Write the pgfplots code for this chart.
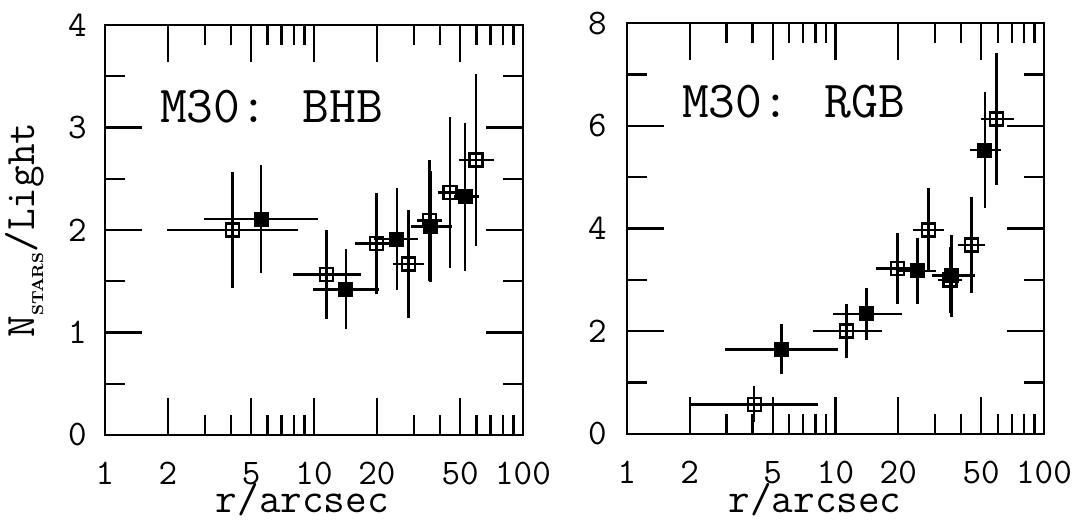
\documentclass[border=0pt]{standalone}
\usepackage{pgfplots}
\pgfplotsset{compat=1.18}
\newcommand{\tlf}{\ttfamily\fontsize{18bp}{20bp}\selectfont}
\newcommand{\tl}[1]{\mbox{\tlf #1}}

\begin{document}
\begin{tikzpicture}
\useasboundingbox (0,0) rectangle (541bp,261bp);

% BHB
\begin{axis}[at={(52.5bp,43.5bp)}, anchor=south west,
  scale only axis, width=209bp, height=205bp,
  xmode=log, xmin=1, xmax=100,
  xtick={1,2,5,10,20,50,100},
  xticklabels={\tl{1},\tl{2},\tl{5},\tl{10},\tl{20},\tl{50},\tl{100}},
  minor xtick={3,4,6,7,8,9,30,40,60,70,80,90},
  ymin=0, ymax=4, ytick={0,1,2,3,4},
  yticklabels={\tl{0},\tl{1},\tl{2},\tl{3},\tl{4}},
  minor ytick={0.5,1.5,2.5,3.5},
  tick align=inside, major tick length=18.5bp, minor tick length=10bp,
  tick style={black, line width=1.2bp},
  axis line style={line width=1.4bp},
  xticklabel style={font=\tlf, inner sep=0pt, yshift=-13.5bp},
  yticklabel style={font=\tlf, inner sep=0pt, xshift=-9bp},
  label style={font=\ttfamily\fontsize{21bp}{24bp}\selectfont},
  xlabel={r/arcsec},
  ylabel={N\raisebox{-0.45ex}{\rmfamily\bfseries\fontsize{8bp}{9bp}\selectfont STARS}/Light},
  ylabel style={at={(axis description cs:-0.191,0.5)}, anchor=center},
  xlabel style={at={(axis description cs:0.472,-0.188)}, anchor=base},
]
\addplot[only marks, black, mark=square, mark size=3.25bp,
  mark options={solid, line width=1.1bp},
  error bars/x dir=both, error bars/x explicit,
  error bars/y dir=both, error bars/y explicit,
  error bars/error bar style={line width=1.3bp},
  error bars/error mark options={mark size=1.2bp, line width=1.3bp}]
  table[x=x, y=y, x error plus=xp, x error minus=xm, y error plus=ye, y error minus=ye] {
x     y      xm    xp    ye
4.08  2.000  2.05  4.09  0.543
11.5  1.568  3.33  4.90  0.410
19.95 1.870  3.85  4.75  0.467
28.3  1.668  3.90  4.50  0.500
35.6  2.091  3.70  4.50  0.570
44.7  2.364  4.60  5.30  0.715
59.6  2.683  9.10  11.2  0.820
};
\addplot[only marks, black, mark=square*, mark size=3.25bp,
  mark options={solid, line width=1bp, fill=black},
  error bars/x dir=both, error bars/x explicit,
  error bars/y dir=both, error bars/y explicit,
  error bars/error bar style={line width=1.3bp},
  error bars/error mark options={mark size=1.2bp, line width=1.3bp}]
  table[x=x, y=y, x error plus=xp, x error minus=xm, y error plus=ye, y error minus=ye] {
x     y      xm    xp    ye
5.58  2.107  2.51  4.62  0.500
14.2  1.421  4.10  5.75  0.366
24.9  1.912  4.95  5.80  0.470
36.2  2.033  6.30  8.50  0.520
52.8  2.325  4.60  7.20  0.700
};
\node[anchor=base west, font=\ttfamily\fontsize{26bp}{30bp}\selectfont]
  at (axis description cs:0.115,0.763) {M30: BHB};
\end{axis}

% RGB
\begin{axis}[at={(313.5bp,44bp)}, anchor=south west,
  scale only axis, width=208.5bp, height=205.5bp,
  xmode=log, xmin=1, xmax=100,
  xtick={1,2,5,10,20,50,100},
  xticklabels={\tl{1},\tl{2},\tl{5},\tl{10},\tl{20},\tl{50},\tl{100}},
  minor xtick={3,4,6,7,8,9,30,40,60,70,80,90},
  ymin=0, ymax=8, ytick={0,2,4,6,8},
  yticklabels={\tl{0},\tl{2},\tl{4},\tl{6},\tl{8}},
  minor ytick={1,3,5,7},
  tick align=inside, major tick length=18.5bp, minor tick length=10bp,
  tick style={black, line width=1.2bp},
  axis line style={line width=1.4bp},
  xticklabel style={font=\tlf, inner sep=0pt, yshift=-13.5bp},
  yticklabel style={font=\tlf, inner sep=0pt, xshift=-10bp},
  label style={font=\ttfamily\fontsize{21bp}{24bp}\selectfont},
  xlabel={r/arcsec},
  xlabel style={at={(axis description cs:0.451,-0.19)}, anchor=base},
]
\addplot[only marks, black, mark=square, mark size=3.25bp,
  mark options={solid, line width=1.1bp},
  error bars/x dir=both, error bars/x explicit,
  error bars/y dir=both, error bars/y explicit,
  error bars/error bar style={line width=1.3bp},
  error bars/error mark options={mark size=1.2bp, line width=1.3bp}]
  table[x=x, y=y, x error plus=xp, x error minus=xm, y error plus=ye, y error minus=ye] {
x     y      xm    xp    ye
4.07  0.578  2.03  3.99  0.30
11.3  2.005  3.33  4.90  0.476
19.8  3.225  3.80  4.70  0.64
27.9  3.971  3.80  4.40  0.77
35.4  2.998  3.70  4.10  0.59
45.0  3.679  5.20  5.80  0.89
59.3  6.131  8.10  10.7  1.23
};
\addplot[only marks, black, mark=square*, mark size=3.25bp,
  mark options={solid, line width=1bp, fill=black},
  error bars/x dir=both, error bars/x explicit,
  error bars/y dir=both, error bars/y explicit,
  error bars/error bar style={line width=1.3bp},
  error bars/error mark options={mark size=1.2bp, line width=1.3bp}]
  table[x=x, y=y, x error plus=xp, x error minus=xm, y error plus=ye, y error minus=ye] {
x     y      xm    xp    ye
5.52  1.648  2.49  4.48  0.44
14.1  2.336  4.15  6.10  0.465
24.7  3.173  4.75  4.70  0.60
36.1  3.081  6.40  9.40  0.75
52.1  5.528  6.60  8.30  1.08
};
\node[anchor=base west, font=\ttfamily\fontsize{26bp}{30bp}\selectfont]
  at (axis description cs:0.115,0.769) {M30: RGB};
\end{axis}
\end{tikzpicture}
\end{document}
